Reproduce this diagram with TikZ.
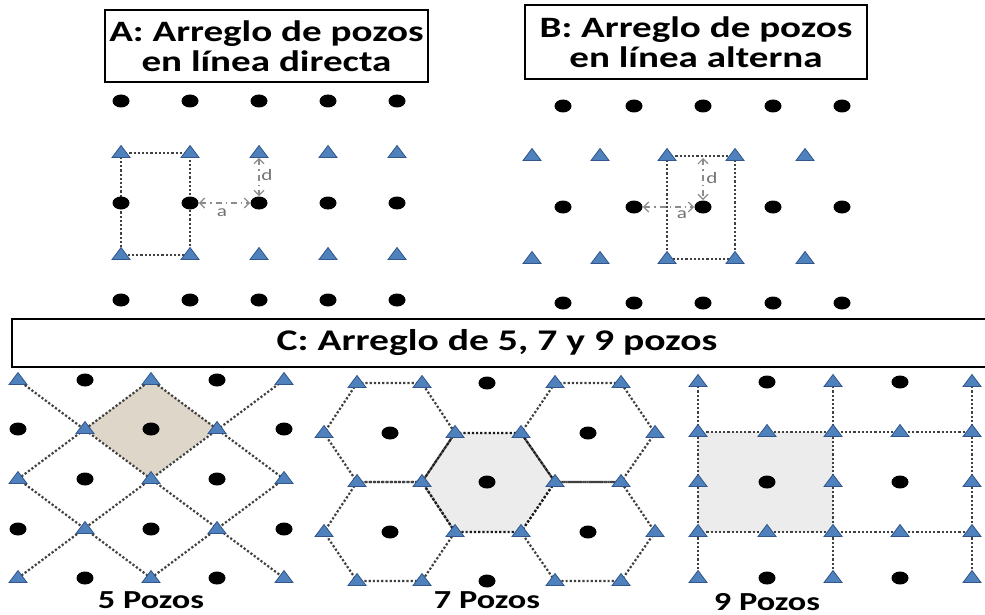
\documentclass[tikz,border=0pt]{standalone}
\usepackage{fontspec}
\setmainfont{Carlito}[FakeStretch=1.32]
\usetikzlibrary{shapes.geometric,arrows.meta,backgrounds}
\definecolor{pz_azul}{RGB}{79, 129, 189}
\definecolor{pz_borde}{RGB}{50, 86, 140}
\definecolor{pz_beige}{RGB}{222, 214, 200}
\definecolor{pz_gris}{RGB}{236, 236, 236}
\tikzstyle{pz}=[ellipse,fill=black,inner sep=0pt,minimum width=8.5pt,minimum height=6.5pt]
\tikzstyle{iy}=[isosceles triangle,isosceles triangle stretches,shape border rotate=90,
  fill=pz_azul,draw=pz_borde,line width=0.4pt,inner sep=0pt,minimum width=9pt,minimum height=6pt]
\tikzstyle{ln}=[draw=black!75,line width=1.1pt,densely dotted]
\tikzstyle{dim}=[draw=black!45,line width=0.6pt,dash dot,
  arrows={Straight Barb[length=2.5pt,width=5pt]-Straight Barb[length=2.5pt,width=5pt]}]
\tikzstyle{ttl}=[draw=black,line width=1pt,align=center,inner sep=0pt,
  font=\bfseries\fontsize{14.8}{15}\selectfont]
\tikzstyle{lbl}=[inner sep=0pt,font=\bfseries\fontsize{13}{15}\selectfont]
\tikzstyle{dl}=[inner sep=0pt,text=black!55,font=\fontsize{8}{9}\selectfont]

\begin{document}
\begin{tikzpicture}[x=0.5pt,y=-0.5pt]
    \useasboundingbox (0,0) rectangle (985,615);
    \node [ttl,minimum width=161.5pt,minimum height=36pt] (ttlA) at (266.5,46) {A: Arreglo de pozos\\en línea directa};
    \node [ttl,minimum width=171pt,minimum height=37pt] (ttlB) at (696,42) {B: Arreglo de pozos\\en línea alterna};
    \node [lbl,font=\bfseries\fontsize{15}{16}\selectfont] (ttlC) at (497,343) {C: Arreglo de 5, 7 y 9 pozos};
    \draw [line width=1pt] (985,319) -- (12,319) -- (12,367) -- (985,367);

    \foreach \c/\x in {1/121,2/190,3/259,4/328,5/397}{
      \node [pz] (ap1\c) at (\x,101) {};
      \node [iy] (ai1\c) at (\x,153) {};
      \node [pz] (ap2\c) at (\x,203) {};
      \node [iy] (ai2\c) at (\x,255) {};
      \node [pz] (ap3\c) at (\x,300) {};
    }
    \foreach \c/\x/\t in {1/563/532,2/634/600,3/703/667,4/773/735,5/842/805}{
      \node [pz] (bp1\c) at (\x,106) {};
      \node [iy] (bi1\c) at (\t,156) {};
      \node [pz] (bp2\c) at (\x,207) {};
      \node [iy] (bi2\c) at (\t,259) {};
      \node [pz] (bp3\c) at (\x,303) {};
    }
    \coordinate (bd) at (703,158);
    \draw [dim] (ap22) to (ap23);
    \draw [dim] (ai13) to (ap23);
    \draw [dim] (bp22) to (bp23);
    \draw [dim] (bd) to (bp23);
    \node [dl] (la) at (222,213) {a};
    \node [dl] (ld) at (267,175) {d};
    \node [dl] (lb) at (682,215) {a};
    \node [dl] (le) at (712,178) {d};

    \foreach \r/\y in {1/380,2/429,3/479,4/529,5/578}
      \foreach \c/\x in {1/18,2/85,3/151,4/217,5/284}{
        \pgfmathtruncatemacro\k{mod(\r+\c,2)}
        \ifnum\k=0 \node [iy] (f\r\c) at (\x,\y) {}; \else \node [pz] (f\r\c) at (\x,\y) {}; \fi
      }

    \foreach \r/\y in {1/383,3/482,5/581}
      \foreach \c/\x in {1/357,2/422,3/555,4/621}
        \node [iy] (s\r\c) at (\x,\y) {};
    \foreach \r/\y in {2/433,4/532}
      \foreach \c/\x in {1/324,2/455,3/521,4/655}
        \node [iy] (s\r\c) at (\x,\y) {};
    \node [pz] (sp1) at (487,383) {};
    \node [pz] (sp2) at (390,433) {};
    \node [pz] (sp3) at (588,433) {};
    \node [pz] (sp4) at (487,482) {};
    \node [pz] (sp5) at (390,532) {};
    \node [pz] (sp6) at (588,532) {};
    \node [pz] (sp7) at (487,581) {};

    \foreach \r/\y in {1/382,2/432,3/482,4/532,5/578}
      \foreach \c/\x in {1/698,2/767,3/833,4/900,5/972}{
        \pgfmathtruncatemacro\k{mod(\r,2)*mod(\c+1,2)}
        \ifnum\k=1 \node [pz] (n\r\c) at (\x,\y) {}; \else \node [iy] (n\r\c) at (\x,\y) {}; \fi
      }

    \node [lbl] (l5) at (151,600) {5 Pozos};
    \node [lbl] (l7) at (487,600) {7 Pozos};
    \node [lbl] (l9) at (767,602) {9 Pozos};

    \begin{scope}[on background layer]
      \draw [ln] (ai11.center) -- (ai12.center) -- (ai22.center) -- (ai21.center) -- cycle;
      \draw [ln] (bi13.center) -- (bi14.center) -- (bi24.center) -- (bi23.center) -- cycle;

      \fill [pz_beige] (f13.center) -- (f24.center) -- (f33.center) -- (f22.center) -- cycle;
      \draw [ln] (f11.center) to (f55.center);
      \draw [ln] (f13.center) to (f35.center);
      \draw [ln] (f31.center) to (f53.center);
      \draw [ln] (f51.center) to (f15.center);
      \draw [ln] (f31.center) to (f13.center);
      \draw [ln] (f53.center) to (f35.center);

      \fill [pz_gris] (s22.center) -- (s23.center) -- (s33.center) -- (s43.center) -- (s42.center) -- (s32.center) -- cycle;
      \draw [ln] (s11.center) -- (s12.center) -- (s22.center) -- (s32.center) -- (s31.center) -- (s21.center) -- cycle;
      \draw [ln] (s13.center) -- (s14.center) -- (s24.center) -- (s34.center) -- (s33.center) -- (s23.center) -- cycle;
      \draw [ln] (s31.center) -- (s32.center) -- (s42.center) -- (s52.center) -- (s51.center) -- (s41.center) -- cycle;
      \draw [ln] (s33.center) -- (s34.center) -- (s44.center) -- (s54.center) -- (s53.center) -- (s43.center) -- cycle;
      \draw [ln,draw=black!90] (s22.center) -- (s23.center) -- (s33.center) -- (s43.center) -- (s42.center) -- (s32.center) -- cycle;

      \fill [pz_gris] (n21.center) rectangle (n43.center);
      \draw [ln] (n11.center) to (n51.center);
      \draw [ln] (n13.center) to (n53.center);
      \draw [ln] (n15.center) to (n55.center);
      \draw [ln] (n21.center) to (n25.center);
      \draw [ln] (n41.center) to (n45.center);
    \end{scope}
  \end{tikzpicture}
\end{document}
